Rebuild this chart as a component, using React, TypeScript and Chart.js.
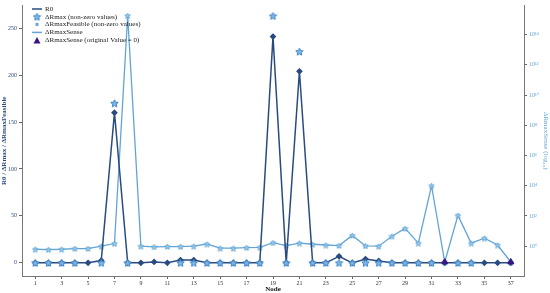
import React, { useEffect, useRef } from 'react';
import { Chart, registerables } from 'chart.js';

Chart.register(...registerables);

const nodes = [1, 2, 3, 4, 5, 6, 7, 8, 9, 10, 11, 12, 13, 14, 15, 16, 17, 18, 19, 20, 21, 22, 23, 24, 25, 26, 27, 28, 29, 30, 31, 32, 33, 34, 35, 36, 37];
const r0 = [0, 0, 0, 0, 0, 2.5, 160, 0, 0, 1, 0, 3, 3, 0, 0, 0, 0, 0, 241, 0, 204, 0, 0, 7, 0, 4, 2, 0, 0, 0, 0, 0, 0, 0, 0, 0, 0];
const dRmax = [0, 0, 0, 0, null, 0, 170, 0, null, null, null, 0, 0, 0, 0, 0, 0, 0, 263, 0, 225, 0, 0, 0, 0, 0, 0, 0, 0, 0, 0, null, 0, 0, null, null, null];
const dRmaxFeasible = [null, null, null, null, null, null, 170, null, null, null, null, null, null, null, null, null, null, null, 263, null, 225, null, null, null, null, null, null, null, null, null, null, null, null, null, null, null, null];
const dRmaxSense = [0.63, 0.6, 0.63, 0.7, 0.7, 1.0, 1.5, 1.8e15, 1.0, 0.9, 0.95, 0.95, 1.0, 1.4, 0.74, 0.74, 0.8, 0.85, 1.7, 1.1, 1.6, 1.35, 1.2, 1.1, 5.2, 1.05, 1.0, 4.6, 15, 1.6, 1.0e4, 0.09, 110, 1.6, 3.4, 1.2, 0.09];
const senseZeroNodes = [32, 37];
const senseZeroVals = [0.09, 0.09];
const xTicks = [1, 3, 5, 7, 9, 11, 13, 15, 17, 19, 21, 23, 25, 27, 29, 31, 33, 35, 37];
const leftTicks = [0, 50, 100, 150, 200, 250];
const rightTicks = [1, 1e2, 1e4, 1e6, 1e8, 1e10, 1e12, 1e14];
const rightTickLabels = ['10\u2070', '10\u00B2', '10\u2074', '10\u2076', '10\u2078', '10\u00B9\u2070', '10\u00B9\u00B2', '10\u00B9\u2074'];

const NAVY = '#2a4b80';
const LIGHT = '#62a5d4';
const STAR = '#3f86c8';
const PURPLE = '#3a1486';
const FONT = "'Liberation Serif', 'DejaVu Serif', serif";

function makeStar(size: number, fill: string, stroke: string) {
  const c = document.createElement('canvas');
  c.width = size;
  c.height = size;
  const ctx = c.getContext('2d')!;
  const cx = size / 2, cy = size / 2 + 0.4, R = size / 2 - 0.6, r = R * 0.48;
  ctx.beginPath();
  for (let i = 0; i < 10; i++) {
    const a = -Math.PI / 2 + (i * Math.PI) / 5;
    const rr = i % 2 ? r : R;
    ctx.lineTo(cx + rr * Math.cos(a), cy + rr * Math.sin(a));
  }
  ctx.closePath();
  ctx.fillStyle = fill;
  ctx.fill();
  ctx.strokeStyle = stroke;
  ctx.lineWidth = 1;
  ctx.stroke();
  return c;
}

export default function App() {
  const ref = useRef<HTMLCanvasElement>(null);
  useEffect(() => {
    document.body.style.margin = '0';
    const starBig = makeStar(9, '#7fb6e6', STAR);
    const starSmall = makeStar(7, '#9fcbed', LIGHT);
    const legendPlugin = {
      id: 'insideLegend',
      afterDraw(chart: any) {
        const ctx = chart.ctx;
        ctx.save();
        ctx.font = `7px ${FONT}`;
        ctx.textBaseline = 'middle';
        ctx.fillStyle = '#222';
        const x0 = 32, tx = 45;
        const rows = [9, 16.7, 24.4, 32.4, 40.4];
        const labels = chart.data.datasets.map((d: any) => d.label);
        // R0 line
        ctx.strokeStyle = NAVY; ctx.lineWidth = 1.5;
        ctx.beginPath(); ctx.moveTo(x0, rows[0]); ctx.lineTo(x0 + 10, rows[0]); ctx.stroke();
        ctx.fillText(labels[0], tx, rows[0]);
        ctx.drawImage(starBig, x0 + 5 - 4.5, rows[1] - 4.5);
        ctx.fillText(labels[2], tx, rows[1]);
        ctx.fillStyle = LIGHT;
        ctx.fillRect(x0 + 3.5, rows[2] - 1.5, 3, 3);
        ctx.fillStyle = '#222';
        ctx.fillText(labels[3], tx, rows[2]);
        ctx.strokeStyle = LIGHT; ctx.lineWidth = 1.5;
        ctx.beginPath(); ctx.moveTo(x0, rows[3]); ctx.lineTo(x0 + 10, rows[3]); ctx.stroke();
        ctx.fillText(labels[1], tx, rows[3]);
        ctx.fillStyle = PURPLE;
        ctx.beginPath(); ctx.moveTo(x0 + 5, rows[4] - 3.5); ctx.lineTo(x0 + 8.5, rows[4] + 3); ctx.lineTo(x0 + 1.5, rows[4] + 3); ctx.closePath(); ctx.fill();
        ctx.fillStyle = '#222';
        ctx.fillText(labels[4], tx, rows[4]);
        ctx.restore();
      },
    };
    const chart = new Chart(ref.current!, {
      type: 'line',
      data: {
        datasets: [
          {
            label: 'R0',
            data: nodes.map((n, i) => ({ x: n, y: r0[i] })),
            yAxisID: 'y',
            borderColor: NAVY,
            backgroundColor: NAVY,
            borderWidth: 1.5,
            pointStyle: 'rectRot',
            pointRadius: 2.3,
            order: 2,
          },
          {
            label: 'ΔRmaxSense',
            data: nodes.map((n, i) => ({ x: n, y: dRmaxSense[i] })),
            yAxisID: 'y2',
            borderColor: LIGHT,
            backgroundColor: LIGHT,
            borderWidth: 1.3,
            pointStyle: starSmall as any,
            pointRadius: 3,
            order: 3,
          },
          {
            label: 'ΔRmax (non-zero values)',
            data: nodes.map((n, i) => ({ x: n, y: dRmax[i] })),
            yAxisID: 'y',
            showLine: false,
            pointStyle: starBig as any,
            pointRadius: 4.5,
            order: 0,
          },
          {
            label: 'ΔRmaxFeasible (non-zero values)',
            data: nodes.map((n, i) => ({ x: n, y: dRmaxFeasible[i] })),
            yAxisID: 'y',
            showLine: false,
            pointStyle: 'rect',
            pointRadius: 1.2,
            backgroundColor: LIGHT,
            borderColor: LIGHT,
            order: 1,
          },
          {
            label: 'ΔRmaxSense (original Value = 0)',
            data: senseZeroNodes.map((n, i) => ({ x: n, y: senseZeroVals[i] })),
            yAxisID: 'y2',
            showLine: false,
            pointStyle: 'triangle',
            pointRadius: 3.5,
            backgroundColor: PURPLE,
            borderColor: PURPLE,
            order: -1,
          },
        ],
      },
      options: {
        responsive: false,
        animation: false,
        layout: { padding: { top: 4 } },
        plugins: { legend: { display: false }, tooltip: { enabled: false } },
        scales: {
          x: {
            type: 'linear',
            min: 0,
            max: 38,
            afterBuildTicks: (s: any) => { s.ticks = xTicks.map((v) => ({ value: v })); },
            afterFit: (s: any) => { s.height = 17; },
            ticks: { font: { size: 6, family: FONT }, color: '#333', padding: 1, maxRotation: 0, autoSkip: false },
            grid: { display: true, drawOnChartArea: false, drawTicks: true, tickLength: 3, color: '#666' },
            border: { display: true, color: '#777', width: 1 },
            title: { display: true, text: 'Node', font: { size: 7, weight: 'bold', family: FONT }, color: '#111', padding: 0 },
          },
          y: {
            type: 'linear',
            position: 'left',
            min: -14,
            max: 274,
            afterBuildTicks: (s: any) => { s.ticks = leftTicks.map((v) => ({ value: v })); },
            afterFit: (s: any) => { s.width = 22; },
            ticks: { font: { size: 6, family: FONT }, color: NAVY, padding: 2 },
            grid: { display: true, drawOnChartArea: false, drawTicks: true, tickLength: 3, color: '#666' },
            border: { display: true, color: '#777', width: 1 },
            title: { display: true, text: 'R0 / ΔRmax / ΔRmaxFeasible', font: { size: 7, weight: 'bold', family: FONT }, color: NAVY, padding: 0 },
          },
          y2: {
            type: 'logarithmic',
            position: 'right',
            min: 0.0107,
            max: 8.3e15,
            afterBuildTicks: (s: any) => { s.ticks = rightTicks.map((v) => ({ value: v })); },
            afterFit: (s: any) => { s.width = 26; },
            ticks: {
              font: { size: 6, family: FONT },
              color: LIGHT,
              padding: 2,
              callback: (v: any) => {
                const i = rightTicks.indexOf(Number(v));
                return i >= 0 ? rightTickLabels[i] : '';
              },
            },
            grid: { display: true, drawOnChartArea: false, drawTicks: true, tickLength: 3, color: '#666' },
            border: { display: true, color: '#777', width: 1 },
            title: { display: true, text: 'ΔRmaxSense (log\u2081\u2080)', font: { size: 7, family: FONT }, color: LIGHT, padding: 0 },
          },
        },
      },
      plugins: [legendPlugin],
    } as any);
    return () => chart.destroy();
  }, []);
  return <canvas ref={ref} width={550} height={293} style={{ display: 'block' }} />;
}
